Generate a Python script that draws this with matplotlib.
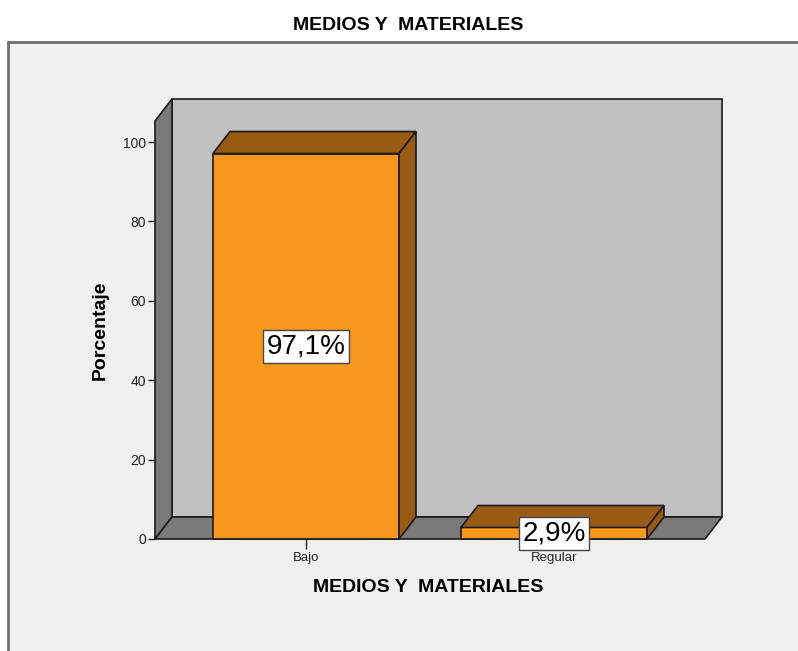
import numpy as np
import matplotlib
matplotlib.use('Agg')
import matplotlib.pyplot as plt
from matplotlib.patches import Polygon, Rectangle

plt.rcParams['font.family'] = ['Liberation Sans', 'DejaVu Sans']

categorias = ['Bajo', 'Regular']
porcentajes = [97.1, 2.9]
etiquetas = ['97,1%', '2,9%']
yticks = [0, 20, 40, 60, 80, 100]

W, H = 798, 651
fig = plt.figure(figsize=(W / 100, H / 100), dpi=100)
fig.patch.set_facecolor('white')

# marco gris del grafico (detras de los ejes)
fig.patches.append(Rectangle((8 / W, -0.01), 1.0, (H - 42) / H + 0.01,
                             transform=fig.transFigure, facecolor='#F0F0F0',
                             edgecolor='#6E6E6E', lw=2, zorder=-5))

# geometria en pixeles de la figura
px_unit = 3.97          # pixeles por punto porcentual
px_cat = 248            # pixeles entre categorias
y0_px = 539             # pixel del 0
x_left_px = 155
x_right_px = 722
ymax = 111

ax = fig.add_axes([x_left_px / W, (H - y0_px) / H,
                   (x_right_px - x_left_px) / W, ymax * px_unit / H])
ax.set_facecolor('none')

x = np.arange(len(categorias))
ancho = 186 / px_cat
ddx = 17 / px_cat
ddy = 22 / px_unit
xl = x[0] - (306 - x_left_px) / px_cat
xr = x[-1] + (x[0] - xl)
techo = 105.3
ax.set_xlim(xl, xr + ddx)
ax.set_ylim(0, ymax)

gris_claro = '#C0C0C0'
gris_osc = '#7A7A7A'
naranja = '#F7981D'
marron = '#995B13'
borde = '#1A1A1A'

def poly(pts, fc, z):
    ax.add_patch(Polygon(pts, closed=True, facecolor=fc, edgecolor=borde,
                         lw=1.2, zorder=z, clip_on=False))

# paredes y piso
poly([(xl + ddx, ddy), (xr + ddx, ddy), (xr + ddx, techo + ddy), (xl + ddx, techo + ddy)], gris_claro, 1)
poly([(xl, 0), (xl + ddx, ddy), (xl + ddx, techo + ddy), (xl, techo)], gris_osc, 1)
poly([(xl, 0), (xr, 0), (xr + ddx, ddy), (xl + ddx, ddy)], gris_osc, 1)

# barras 3d
for xi, v in zip(x, porcentajes):
    a, b = xi - ancho / 2, xi + ancho / 2
    poly([(a, 0), (b, 0), (b, v), (a, v)], naranja, 3)
    poly([(a, v), (b, v), (b + ddx, v + ddy), (a + ddx, v + ddy)], marron, 3)
    poly([(b, 0), (b + ddx, ddy), (b + ddx, v + ddy), (b, v)], marron, 3)

for xi, v, t in zip(x, porcentajes, etiquetas):
    ax.text(xi, v / 2, t, ha='center', va='center', fontsize=20, zorder=6,
            bbox=dict(boxstyle='square,pad=0.12', facecolor='white',
                      edgecolor='#444444', lw=1))

for s in ax.spines.values():
    s.set_visible(False)

ax.set_yticks(yticks)
ax.set_yticklabels([str(t) for t in yticks], fontsize=10)
ax.set_xticks(x)
ax.set_xticklabels(categorias, fontsize=9.5)
ax.tick_params(axis='y', length=5, width=1, pad=1.5, colors='#222222')
ax.tick_params(axis='x', length=7, width=1, pad=2, colors='#222222')

fig.text(428 / W, 1 - 588 / H, 'MEDIOS Y  MATERIALES', ha='center', va='center',
         fontsize=14, fontweight='bold')
fig.text(100 / W, 1 - 330 / H, 'Porcentaje', ha='center', va='center',
         rotation=90, fontsize=14, fontweight='bold')
fig.text(408 / W, 1 - 25 / H, 'MEDIOS Y  MATERIALES', ha='center', va='center',
         fontsize=14, fontweight='bold')

fig.savefig('out.png', dpi=100)
